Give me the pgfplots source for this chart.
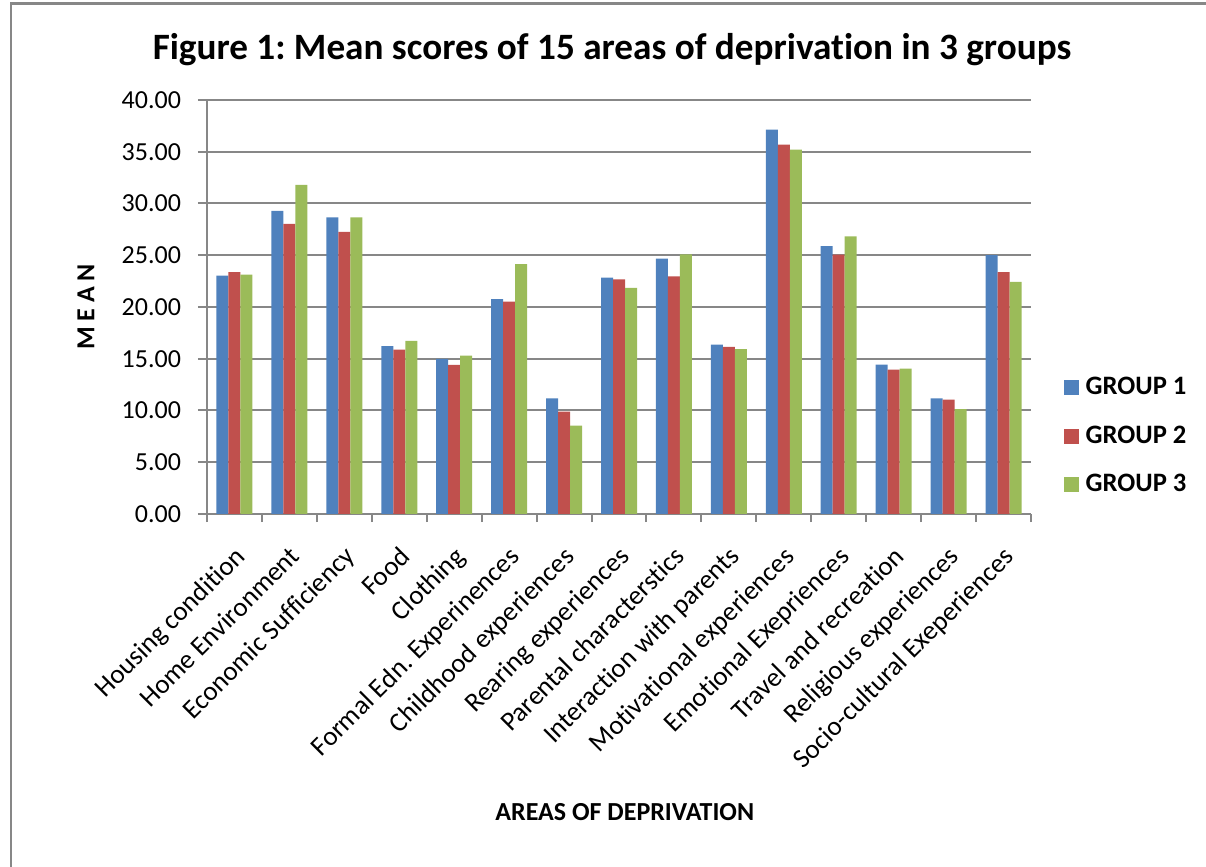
\documentclass[border=0pt]{standalone}
\usepackage{pgfplots}
\pgfplotsset{compat=1.18}
\usepackage{fontspec}
\setmainfont{Carlito}[Ligatures=NoCommon]
\frenchspacing
\definecolor{gA}{HTML}{4F81BD}
\definecolor{gB}{HTML}{C0504D}
\definecolor{gC}{HTML}{9BBB59}
\definecolor{gridc}{HTML}{878787}
\begin{document}
\begin{tikzpicture}
\useasboundingbox (0,0) rectangle (603bp,433.5bp);
\draw[gridc, line width=1.2bp] (5.5bp,0) -- (5.5bp,431.8bp) -- (603bp,431.8bp);
\node[font=\fontsize{18.6bp}{22bp}\selectfont\bfseries] at (306bp,408.5bp) {Figure 1: Mean scores of 15 areas of deprivation in 3 groups};
\begin{axis}[
  at={(103.5bp,176.5bp)}, anchor=south west,
  scale only axis, width=412bp, height=207bp,
  ybar=0pt, bar width=6bp,
  xmin=-0.5, xmax=14.5, ymin=0, ymax=40,
  ytick={0,5,...,40},
  xtick={0,...,14},
  minor xtick={-0.5,0.5,...,14.5},
  xticklabels={Housing condition, Home Environment, Economic Sufficiency, Food, Clothing, Formal Edn. Experinences, Childhood experiences, Rearing experiences, Parental characterstics, Interaction with parents, Motivational experiences, Emotional Exepriences, Travel and recreation, Religious experiences, Socio-cultural Exeperiences},
  axis x line*=bottom, axis y line*=left,
  axis line style={gridc, line width=1bp},
  tick align=outside,
  major tick length=4.5bp, minor tick length=4bp,
  major x tick style={draw=none},
  minor x tick style={gridc, line width=1bp},
  ytick style={gridc, line width=1bp},
  ymajorgrids, major grid style={gridc, line width=1bp},
  /pgf/number format/assume math mode=true,
  yticklabel={\pgfmathprintnumber[fixed, fixed zerofill, precision=2]{\tick}},
  ticklabel style={font=\fontsize{13bp}{15bp}\selectfont},
  yticklabel style={xshift=-5bp},
  xticklabel style={rotate=45, anchor=north east, inner sep=1bp, yshift=-6bp, xshift=-7bp, font=\fontsize{13.5bp}{15bp}\selectfont},
  ylabel={M E A N},
  ylabel style={at={(axis description cs:-0.147,0.5)}, anchor=center, font=\fontsize{13bp}{15bp}\selectfont\bfseries},
  xlabel={AREAS OF DEPRIVATION},
  xlabel style={at={(axis description cs:0.507,-0.72)}, anchor=center, font=\fontsize{13bp}{15bp}\selectfont\bfseries},
  legend style={at={(axis description cs:1.032,0.188)}, anchor=west, draw=none, fill=none,
    font=\fontsize{13.3bp}{15bp}\selectfont\bfseries, row sep=10bp,
    nodes={inner xsep=3.5bp}},
  legend cell align=left,
  legend image code/.code={\fill[#1] (0bp,-3.75bp) rectangle (7.5bp,3.75bp);},
]
\addplot[fill=gA, draw=none] coordinates {(0,23.03) (1,29.28) (2,28.66) (3,16.23) (4,14.98) (5,20.77) (6,11.18) (7,22.83) (8,24.67) (9,16.36) (10,37.13) (11,25.89) (12,14.43) (13,11.18) (14,25.02)};
\addplot[fill=gB, draw=none] coordinates {(0,23.38) (1,28.02) (2,27.25) (3,15.88) (4,14.40) (5,20.52) (6,9.89) (7,22.67) (8,22.96) (9,16.14) (10,35.68) (11,25.06) (12,13.95) (13,11.05) (14,23.38)};
\addplot[fill=gC, draw=none] coordinates {(0,23.12) (1,31.79) (2,28.66) (3,16.72) (4,15.30) (5,24.15) (6,8.53) (7,21.84) (8,25.09) (9,15.94) (10,35.20) (11,26.83) (12,14.04) (13,10.14) (14,22.42)};
\legend{GROUP 1, GROUP 2, GROUP 3}
\end{axis}
\end{tikzpicture}
\end{document}
